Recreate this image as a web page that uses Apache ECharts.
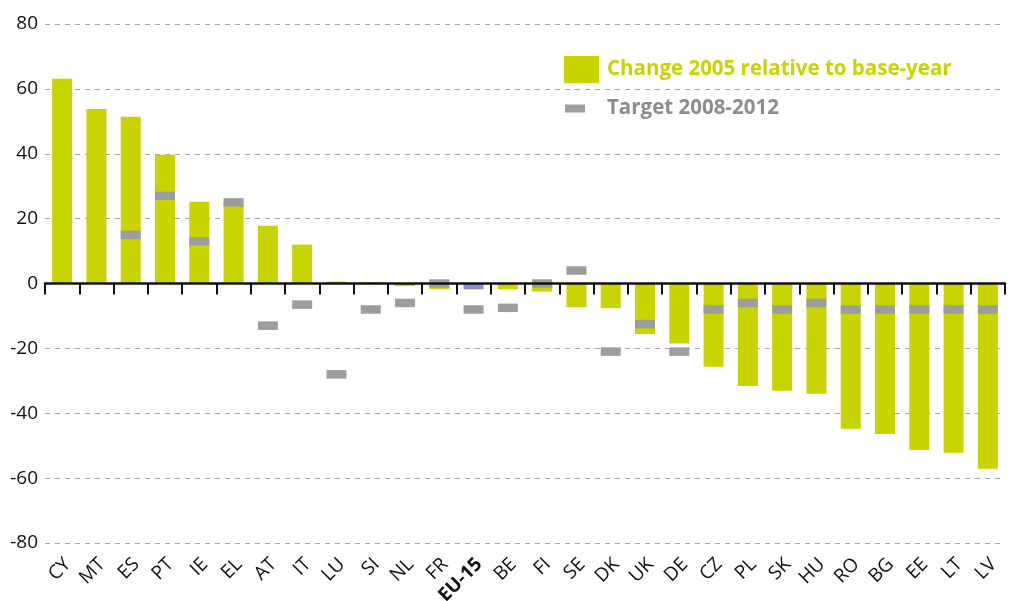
<!DOCTYPE html>
<html>
<head>
<meta charset="utf-8">
<script src="https://cdn.jsdelivr.net/npm/echarts@6/dist/echarts.min.js"></script>
<style>
  html, body { margin: 0; padding: 0; background: #fff; }
  #chart { width: 1011px; height: 601px; }
</style>
</head>
<body>
<div id="chart"></div>
<script>
var countries = ['CY', 'MT', 'ES', 'PT', 'IE', 'EL', 'AT', 'IT', 'LU', 'SI', 'NL', 'FR', 'EU-15', 'BE',
    'FI', 'SE', 'DK', 'UK', 'DE', 'CZ', 'PL', 'SK', 'HU', 'RO', 'BG', 'EE', 'LT', 'LV'];
var change2005 = [63.1, 53.8, 51.4, 39.7, 25.2, 25.4, 17.8, 12.0, 0.6, 0.4, -0.8, -1.7, -1.8, -1.8,
    -2.5, -7.3, -7.6, -15.6, -18.5, -25.7, -31.6, -33.1, -34.0, -44.8, -46.4, -51.3, -52.2, -57.1];
var target = [null, null, 15, 27, 13, 25, -13, -6.5, -28, -8, -6, 0, -8, -7.5,
    0, 4, -21, -12.5, -21, -8, -6, -8, -6, -8, -8, -8, -8, -8];
var yTicks = [-80, -60, -40, -20, 0, 20, 40, 60, 80];

var myChart = echarts.init(document.getElementById('chart'));
var fontName = '"Open Sans", "Noto Sans", sans-serif';

var barData = change2005.map(function (v, i) {
    if (countries[i] == 'EU-15') {
        return { value: v, itemStyle: { color: '#8b8fc4' } };
    }
    return v;
});

var option = {
    animation: false,
    textStyle: { fontFamily: fontName },
    grid: { left: 45, right: 6, top: 24, bottom: 58, containLabel: false, outerBoundsMode: 'none' },
    legend: [
        {
            data: ['Change 2005 relative to base-year'],
            left: 564,
            top: 56,
            padding: 0,
            itemWidth: 35,
            itemHeight: 27,
            icon: 'rect',
            textStyle: { fontSize: 20.5, fontWeight: 'bold', color: '#c8d400', fontFamily: fontName, padding: [0, 0, 0, 3] }
        },
        {
            data: ['Target 2008-2012'],
            left: 565,
            top: 98,
            padding: 0,
            itemWidth: 20,
            itemHeight: 8,
            icon: 'rect',
            textStyle: { fontSize: 20.5, fontWeight: 'bold', color: '#8c8c8c', fontFamily: fontName, padding: [0, 0, 0, 17] }
        }
    ],
    xAxis: [
        {
            type: 'category',
            data: countries,
            axisLine: { onZero: true, lineStyle: { color: '#111', width: 2.5 } },
            axisTick: { show: true, interval: 0, length: 11, lineStyle: { color: '#111', width: 2 } },
            axisLabel: { show: false },
            splitLine: { show: false },
            z: 5
        },
        {
            type: 'category',
            data: countries,
            position: 'bottom',
            axisLine: { show: false },
            axisTick: { show: false },
            axisLabel: {
                rotate: 45,
                fontSize: 19,
                color: '#111',
                margin: 24,
                interval: 0,
                padding: [0, -8, 0, 0],
                formatter: function (v) {
                    return v == 'EU-15' ? '{b|' + v + '}' : v;
                },
                rich: { b: { fontWeight: 'bold', fontSize: 19, color: '#111', fontFamily: fontName } }
            }
        }
    ],
    yAxis: {
        type: 'value',
        min: -80,
        max: 80,
        interval: 20,
        axisLine: { show: false },
        axisTick: { show: false },
        axisLabel: {
            fontSize: 19,
            color: '#111',
            margin: 7,
            formatter: function (v) { return yTicks.indexOf(v) >= 0 ? v : ''; }
        },
        splitLine: { lineStyle: { color: '#a6a6a6', type: [5, 5], width: 1 } }
    },
    series: [
        {
            name: 'Change 2005 relative to base-year',
            type: 'bar',
            barWidth: 20,
            itemStyle: { color: '#c8d400' },
            data: barData,
            z: 2
        },
        {
            name: 'Target 2008-2012',
            type: 'scatter',
            symbol: 'rect',
            symbolSize: [20, 8.5],
            itemStyle: { color: '#9d9d9d', opacity: 1 },
            data: target,
            z: 3
        }
    ]
};
myChart.setOption(option);
</script>
</body>
</html>
